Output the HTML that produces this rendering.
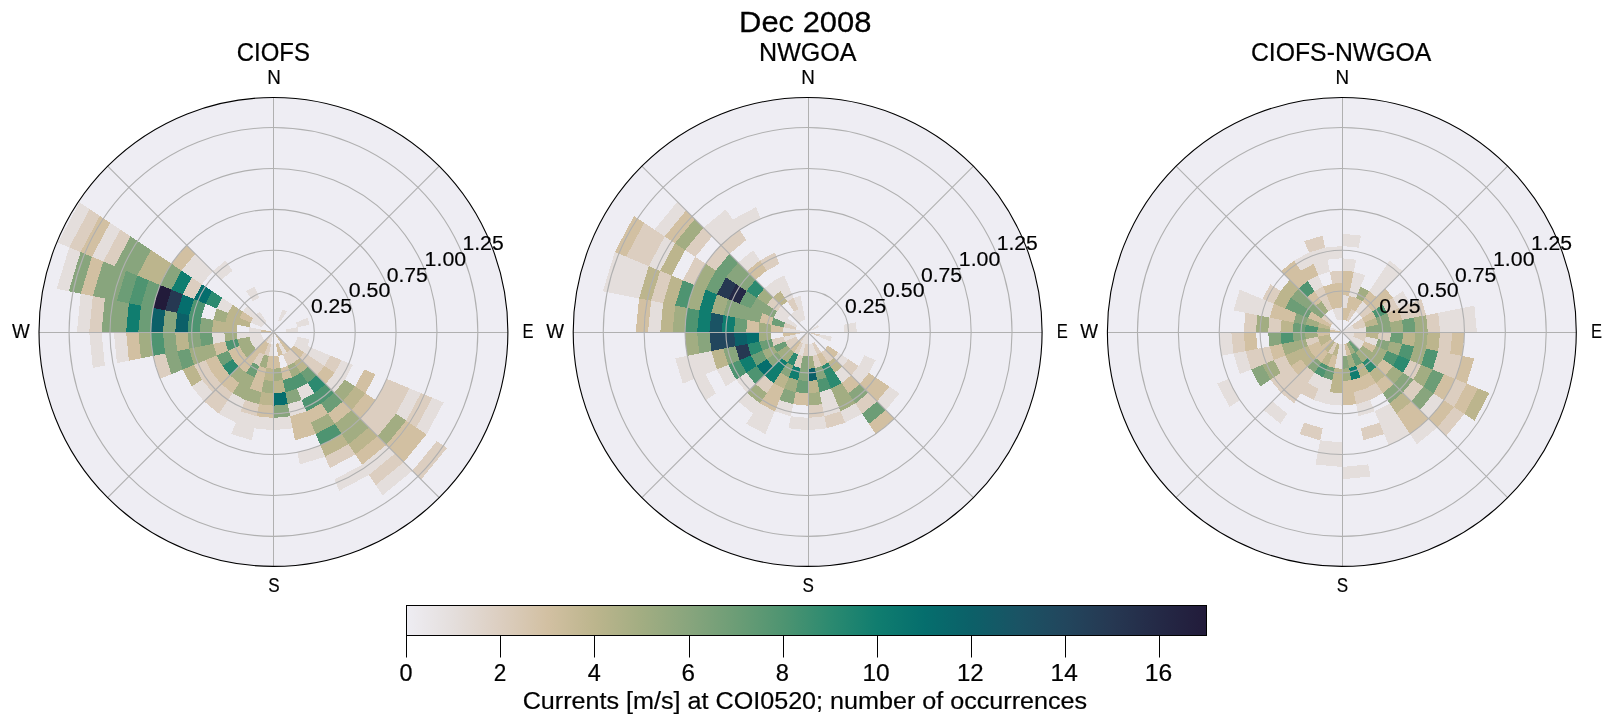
<!DOCTYPE html>
<html><head><meta charset="utf-8"><title>Dec 2008</title>
<style>
html,body{margin:0;padding:0;background:#fff;}
body{width:1611px;height:724px;overflow:hidden;}
svg{display:block;}
text{font-family:"Liberation Sans",sans-serif;fill:#000;stroke:#000;stroke-width:0.9px;}
</style></head><body>
<svg width="1611" height="724" viewBox="0 0 1611 724">
<rect width="1611" height="724" fill="#fff"/>
<defs><linearGradient id="cb" x1="0" x2="1" y1="0" y2="0"><stop offset="0.0000" stop-color="#EEEDF3"/><stop offset="0.0588" stop-color="#E4DEDC"/><stop offset="0.1176" stop-color="#DCCEC0"/><stop offset="0.1765" stop-color="#D2C0A2"/><stop offset="0.2353" stop-color="#BCB58D"/><stop offset="0.2941" stop-color="#A2AD82"/><stop offset="0.3529" stop-color="#88A57D"/><stop offset="0.4118" stop-color="#6C9D76"/><stop offset="0.4706" stop-color="#4E9471"/><stop offset="0.5294" stop-color="#2C8A70"/><stop offset="0.5882" stop-color="#107D6F"/><stop offset="0.6471" stop-color="#056E6D"/><stop offset="0.7059" stop-color="#0C6068"/><stop offset="0.7647" stop-color="#1A5364"/><stop offset="0.8235" stop-color="#22465D"/><stop offset="0.8824" stop-color="#263852"/><stop offset="0.9412" stop-color="#242946"/><stop offset="1.0000" stop-color="#221B3A"/></linearGradient><clipPath id="cp0"><circle cx="273.45" cy="331.95" r="234.45"/></clipPath><clipPath id="cp1"><circle cx="807.65" cy="331.95" r="234.45"/></clipPath><clipPath id="cp2"><circle cx="1341.85" cy="331.95" r="234.45"/></clipPath></defs>
<g>
<circle cx="273.45" cy="331.95" r="234.45" fill="#EEEDF3"/>
<g clip-path="url(#cp0)" shape-rendering="crispEdges">
<polygon points="278.15,320.60 282.85,309.26 287.09,311.53 280.27,321.74" fill="#E4DEDC"/>
<polygon points="296.14,322.55 307.49,317.85 309.58,324.76 297.54,327.16" fill="#E4DEDC"/>
<polygon points="285.49,329.55 297.54,327.16 298.01,331.95 285.73,331.95" fill="#E4DEDC"/>
<polygon points="297.54,336.74 309.58,339.14 307.49,346.05 296.14,341.35" fill="#E4DEDC"/>
<polygon points="296.14,341.35 307.49,346.05 304.08,352.42 293.87,345.59" fill="#E4DEDC"/><polygon points="307.49,346.05 318.83,350.75 314.29,359.24 304.08,352.42" fill="#E4DEDC"/><polygon points="318.83,350.75 330.18,355.45 324.50,366.06 314.29,359.24" fill="#E4DEDC"/><polygon points="330.18,355.45 341.52,360.15 334.71,372.88 324.50,366.06" fill="#DCCEC0"/><polygon points="341.52,360.15 352.87,364.85 344.92,379.71 334.71,372.88" fill="#E4DEDC"/><polygon points="364.21,369.54 375.56,374.24 365.34,393.35 355.13,386.53" fill="#D2C0A2"/><polygon points="386.90,378.94 398.25,383.64 385.76,407.00 375.55,400.17" fill="#DCCEC0"/><polygon points="398.25,383.64 409.59,388.34 395.98,413.82 385.76,407.00" fill="#DCCEC0"/><polygon points="409.59,388.34 420.94,393.04 406.19,420.64 395.98,413.82" fill="#E4DEDC"/><polygon points="420.94,393.04 432.28,397.74 416.40,427.46 406.19,420.64" fill="#DCCEC0"/><polygon points="432.28,397.74 443.63,402.44 426.61,434.29 416.40,427.46" fill="#E4DEDC"/>
<polygon points="293.87,345.59 304.08,352.42 299.50,358.00 290.82,349.32" fill="#D2C0A2"/><polygon points="304.08,352.42 314.29,359.24 308.18,366.68 299.50,358.00" fill="#DCCEC0"/><polygon points="314.29,359.24 324.50,366.06 316.87,375.37 308.18,366.68" fill="#DCCEC0"/><polygon points="324.50,366.06 334.71,372.88 325.55,384.05 316.87,375.37" fill="#D2C0A2"/><polygon points="334.71,372.88 344.92,379.71 334.23,392.73 325.55,384.05" fill="#E4DEDC"/><polygon points="344.92,379.71 355.13,386.53 342.92,401.42 334.23,392.73" fill="#A2AD82"/><polygon points="355.13,386.53 365.34,393.35 351.60,410.10 342.92,401.42" fill="#BCB58D"/><polygon points="365.34,393.35 375.55,400.17 360.28,418.78 351.60,410.10" fill="#D2C0A2"/><polygon points="375.55,400.17 385.76,407.00 368.97,427.47 360.28,418.78" fill="#DCCEC0"/><polygon points="385.76,407.00 395.98,413.82 377.65,436.15 368.97,427.47" fill="#DCCEC0"/><polygon points="395.98,413.82 406.19,420.64 386.33,444.83 377.65,436.15" fill="#A2AD82"/><polygon points="406.19,420.64 416.40,427.46 395.02,453.52 386.33,444.83" fill="#D2C0A2"/><polygon points="416.40,427.46 426.61,434.29 403.70,462.20 395.02,453.52" fill="#D2C0A2"/><polygon points="436.82,441.11 447.03,447.93 421.07,479.57 412.38,470.88" fill="#DCCEC0"/>
<polygon points="273.45,331.95 282.13,340.63 280.27,342.16 273.45,331.95" fill="#D2C0A2"/><polygon points="282.13,340.63 290.82,349.32 287.09,352.37 280.27,342.16" fill="#D2C0A2"/><polygon points="290.82,349.32 299.50,358.00 293.92,362.58 287.09,352.37" fill="#DCCEC0"/><polygon points="299.50,358.00 308.18,366.68 300.74,372.79 293.92,362.58" fill="#BCB58D"/><polygon points="308.18,366.68 316.87,375.37 307.56,383.00 300.74,372.79" fill="#6C9D76"/><polygon points="316.87,375.37 325.55,384.05 314.38,393.21 307.56,383.00" fill="#2C8A70"/><polygon points="325.55,384.05 334.23,392.73 321.21,403.42 314.38,393.21" fill="#4E9471"/><polygon points="334.23,392.73 342.92,401.42 328.03,413.63 321.21,403.42" fill="#6C9D76"/><polygon points="342.92,401.42 351.60,410.10 334.85,423.84 328.03,413.63" fill="#D2C0A2"/><polygon points="351.60,410.10 360.28,418.78 341.67,434.05 334.85,423.84" fill="#A2AD82"/><polygon points="360.28,418.78 368.97,427.47 348.50,444.26 341.67,434.05" fill="#A2AD82"/><polygon points="368.97,427.47 377.65,436.15 355.32,454.48 348.50,444.26" fill="#BCB58D"/><polygon points="377.65,436.15 386.33,444.83 362.14,464.69 355.32,454.48" fill="#D2C0A2"/><polygon points="386.33,444.83 395.02,453.52 368.96,474.90 362.14,464.69" fill="#E4DEDC"/><polygon points="395.02,453.52 403.70,462.20 375.79,485.11 368.96,474.90" fill="#DCCEC0"/><polygon points="403.70,462.20 412.38,470.88 382.61,495.32 375.79,485.11" fill="#E4DEDC"/>
<polygon points="280.27,342.16 287.09,352.37 282.85,354.64 278.15,343.30" fill="#E4DEDC"/><polygon points="287.09,352.37 293.92,362.58 287.55,365.99 282.85,354.64" fill="#DCCEC0"/><polygon points="293.92,362.58 300.74,372.79 292.25,377.33 287.55,365.99" fill="#A2AD82"/><polygon points="300.74,372.79 307.56,383.00 296.95,388.68 292.25,377.33" fill="#4E9471"/><polygon points="307.56,383.00 314.38,393.21 301.65,400.02 296.95,388.68" fill="#E4DEDC"/><polygon points="314.38,393.21 321.21,403.42 306.35,411.37 301.65,400.02" fill="#4E9471"/><polygon points="321.21,403.42 328.03,413.63 311.04,422.71 306.35,411.37" fill="#D2C0A2"/><polygon points="328.03,413.63 334.85,423.84 315.74,434.06 311.04,422.71" fill="#A2AD82"/><polygon points="334.85,423.84 341.67,434.05 320.44,445.40 315.74,434.06" fill="#4E9471"/><polygon points="341.67,434.05 348.50,444.26 325.14,456.75 320.44,445.40" fill="#BCB58D"/><polygon points="348.50,444.26 355.32,454.48 329.84,468.09 325.14,456.75" fill="#DCCEC0"/><polygon points="362.14,464.69 368.96,474.90 339.24,490.78 334.54,479.44" fill="#E4DEDC"/>
<polygon points="278.15,343.30 282.85,354.64 278.24,356.04 275.85,343.99" fill="#D2C0A2"/><polygon points="287.55,365.99 292.25,377.33 283.03,380.13 280.64,368.08" fill="#D2C0A2"/><polygon points="292.25,377.33 296.95,388.68 285.43,392.17 283.03,380.13" fill="#4E9471"/><polygon points="296.95,388.68 301.65,400.02 287.82,404.21 285.43,392.17" fill="#88A57D"/><polygon points="301.65,400.02 306.35,411.37 290.22,416.26 287.82,404.21" fill="#E4DEDC"/><polygon points="306.35,411.37 311.04,422.71 292.62,428.30 290.22,416.26" fill="#D2C0A2"/><polygon points="311.04,422.71 315.74,434.06 295.01,440.35 292.62,428.30" fill="#D2C0A2"/><polygon points="320.44,445.40 325.14,456.75 299.80,464.43 297.41,452.39" fill="#E4DEDC"/>
<polygon points="278.24,356.04 280.64,368.08 273.45,368.79 273.45,356.51" fill="#D2C0A2"/><polygon points="280.64,368.08 283.03,380.13 273.45,381.07 273.45,368.79" fill="#A2AD82"/><polygon points="283.03,380.13 285.43,392.17 273.45,393.35 273.45,381.07" fill="#BCB58D"/><polygon points="285.43,392.17 287.82,404.21 273.45,405.63 273.45,393.35" fill="#056E6D"/><polygon points="287.82,404.21 290.22,416.26 273.45,417.91 273.45,405.63" fill="#88A57D"/><polygon points="290.22,416.26 292.62,428.30 273.45,430.19 273.45,417.91" fill="#E4DEDC"/>
<polygon points="273.45,344.23 273.45,356.51 268.66,356.04 271.05,343.99" fill="#E4DEDC"/><polygon points="273.45,356.51 273.45,368.79 266.26,368.08 268.66,356.04" fill="#D2C0A2"/><polygon points="273.45,368.79 273.45,381.07 263.87,380.13 266.26,368.08" fill="#BCB58D"/><polygon points="273.45,381.07 273.45,393.35 261.47,392.17 263.87,380.13" fill="#A2AD82"/><polygon points="273.45,393.35 273.45,405.63 259.08,404.21 261.47,392.17" fill="#BCB58D"/><polygon points="273.45,405.63 273.45,417.91 256.68,416.26 259.08,404.21" fill="#D2C0A2"/><polygon points="273.45,417.91 273.45,430.19 254.28,428.30 256.68,416.26" fill="#E4DEDC"/>
<polygon points="273.45,331.95 271.05,343.99 268.75,343.30 273.45,331.95" fill="#E4DEDC"/><polygon points="271.05,343.99 268.66,356.04 264.05,354.64 268.75,343.30" fill="#DCCEC0"/><polygon points="268.66,356.04 266.26,368.08 259.35,365.99 264.05,354.64" fill="#A2AD82"/><polygon points="266.26,368.08 263.87,380.13 254.65,377.33 259.35,365.99" fill="#D2C0A2"/><polygon points="263.87,380.13 261.47,392.17 249.95,388.68 254.65,377.33" fill="#D2C0A2"/><polygon points="261.47,392.17 259.08,404.21 245.25,400.02 249.95,388.68" fill="#A2AD82"/><polygon points="259.08,404.21 256.68,416.26 240.55,411.37 245.25,400.02" fill="#DCCEC0"/><polygon points="256.68,416.26 254.28,428.30 235.86,422.71 240.55,411.37" fill="#E4DEDC"/><polygon points="254.28,428.30 251.89,440.35 231.16,434.06 235.86,422.71" fill="#E4DEDC"/>
<polygon points="273.45,331.95 268.75,343.30 266.63,342.16 273.45,331.95" fill="#E4DEDC"/><polygon points="268.75,343.30 264.05,354.64 259.81,352.37 266.63,342.16" fill="#D2C0A2"/><polygon points="264.05,354.64 259.35,365.99 252.98,362.58 259.81,352.37" fill="#DCCEC0"/><polygon points="259.35,365.99 254.65,377.33 246.16,372.79 252.98,362.58" fill="#6C9D76"/><polygon points="254.65,377.33 249.95,388.68 239.34,383.00 246.16,372.79" fill="#A2AD82"/><polygon points="249.95,388.68 245.25,400.02 232.52,393.21 239.34,383.00" fill="#A2AD82"/><polygon points="245.25,400.02 240.55,411.37 225.69,403.42 232.52,393.21" fill="#E4DEDC"/><polygon points="240.55,411.37 235.86,422.71 218.87,413.63 225.69,403.42" fill="#E4DEDC"/>
<polygon points="273.45,331.95 266.63,342.16 264.77,340.63 273.45,331.95" fill="#DCCEC0"/><polygon points="266.63,342.16 259.81,352.37 256.08,349.32 264.77,340.63" fill="#D2C0A2"/><polygon points="259.81,352.37 252.98,362.58 247.40,358.00 256.08,349.32" fill="#D2C0A2"/><polygon points="252.98,362.58 246.16,372.79 238.72,366.68 247.40,358.00" fill="#D2C0A2"/><polygon points="246.16,372.79 239.34,383.00 230.03,375.37 238.72,366.68" fill="#A2AD82"/><polygon points="239.34,383.00 232.52,393.21 221.35,384.05 230.03,375.37" fill="#D2C0A2"/><polygon points="232.52,393.21 225.69,403.42 212.67,392.73 221.35,384.05" fill="#DCCEC0"/><polygon points="225.69,403.42 218.87,413.63 203.98,401.42 212.67,392.73" fill="#DCCEC0"/>
<polygon points="264.77,340.63 256.08,349.32 253.03,345.59 263.24,338.77" fill="#E4DEDC"/><polygon points="256.08,349.32 247.40,358.00 242.82,352.42 253.03,345.59" fill="#A2AD82"/><polygon points="247.40,358.00 238.72,366.68 232.61,359.24 242.82,352.42" fill="#D2C0A2"/><polygon points="238.72,366.68 230.03,375.37 222.40,366.06 232.61,359.24" fill="#2C8A70"/><polygon points="230.03,375.37 221.35,384.05 212.19,372.88 222.40,366.06" fill="#D2C0A2"/><polygon points="221.35,384.05 212.67,392.73 201.98,379.71 212.19,372.88" fill="#DCCEC0"/><polygon points="212.67,392.73 203.98,401.42 191.77,386.53 201.98,379.71" fill="#E4DEDC"/>
<polygon points="263.24,338.77 253.03,345.59 250.76,341.35 262.10,336.65" fill="#E4DEDC"/><polygon points="253.03,345.59 242.82,352.42 239.41,346.05 250.76,341.35" fill="#A2AD82"/><polygon points="242.82,352.42 232.61,359.24 228.07,350.75 239.41,346.05" fill="#D2C0A2"/><polygon points="232.61,359.24 222.40,366.06 216.72,355.45 228.07,350.75" fill="#6C9D76"/><polygon points="222.40,366.06 212.19,372.88 205.38,360.15 216.72,355.45" fill="#D2C0A2"/><polygon points="212.19,372.88 201.98,379.71 194.03,364.85 205.38,360.15" fill="#DCCEC0"/><polygon points="201.98,379.71 191.77,386.53 182.69,369.54 194.03,364.85" fill="#BCB58D"/>
<polygon points="262.10,336.65 250.76,341.35 249.36,336.74 261.41,334.35" fill="#E4DEDC"/><polygon points="250.76,341.35 239.41,346.05 237.32,339.14 249.36,336.74" fill="#A2AD82"/><polygon points="239.41,346.05 228.07,350.75 225.27,341.53 237.32,339.14" fill="#4E9471"/><polygon points="228.07,350.75 216.72,355.45 213.23,343.93 225.27,341.53" fill="#D2C0A2"/><polygon points="216.72,355.45 205.38,360.15 201.19,346.32 213.23,343.93" fill="#A2AD82"/><polygon points="205.38,360.15 194.03,364.85 189.14,348.72 201.19,346.32" fill="#A2AD82"/><polygon points="194.03,364.85 182.69,369.54 177.10,351.12 189.14,348.72" fill="#6C9D76"/><polygon points="182.69,369.54 171.34,374.24 165.05,353.51 177.10,351.12" fill="#88A57D"/><polygon points="171.34,374.24 160.00,378.94 153.01,355.91 165.05,353.51" fill="#DCCEC0"/>
<polygon points="261.41,334.35 249.36,336.74 248.89,331.95 261.17,331.95" fill="#E4DEDC"/><polygon points="249.36,336.74 237.32,339.14 236.61,331.95 248.89,331.95" fill="#E4DEDC"/><polygon points="237.32,339.14 225.27,341.53 224.33,331.95 236.61,331.95" fill="#A2AD82"/><polygon points="225.27,341.53 213.23,343.93 212.05,331.95 224.33,331.95" fill="#E4DEDC"/><polygon points="213.23,343.93 201.19,346.32 199.77,331.95 212.05,331.95" fill="#6C9D76"/><polygon points="201.19,346.32 189.14,348.72 187.49,331.95 199.77,331.95" fill="#88A57D"/><polygon points="189.14,348.72 177.10,351.12 175.21,331.95 187.49,331.95" fill="#BCB58D"/><polygon points="177.10,351.12 165.05,353.51 162.93,331.95 175.21,331.95" fill="#88A57D"/><polygon points="165.05,353.51 153.01,355.91 150.65,331.95 162.93,331.95" fill="#4E9471"/><polygon points="153.01,355.91 140.97,358.30 138.37,331.95 150.65,331.95" fill="#A2AD82"/><polygon points="140.97,358.30 128.92,360.70 126.09,331.95 138.37,331.95" fill="#D2C0A2"/><polygon points="128.92,360.70 116.88,363.09 113.81,331.95 126.09,331.95" fill="#E4DEDC"/><polygon points="104.83,365.49 92.79,367.89 89.25,331.95 101.53,331.95" fill="#E4DEDC"/>
<polygon points="273.45,331.95 261.17,331.95 261.41,329.55 273.45,331.95" fill="#D2C0A2"/><polygon points="261.17,331.95 248.89,331.95 249.36,327.16 261.41,329.55" fill="#E4DEDC"/><polygon points="236.61,331.95 224.33,331.95 225.27,322.37 237.32,324.76" fill="#BCB58D"/><polygon points="224.33,331.95 212.05,331.95 213.23,319.97 225.27,322.37" fill="#BCB58D"/><polygon points="212.05,331.95 199.77,331.95 201.19,317.58 213.23,319.97" fill="#88A57D"/><polygon points="199.77,331.95 187.49,331.95 189.14,315.18 201.19,317.58" fill="#4E9471"/><polygon points="187.49,331.95 175.21,331.95 177.10,312.78 189.14,315.18" fill="#0C6068"/><polygon points="175.21,331.95 162.93,331.95 165.05,310.39 177.10,312.78" fill="#88A57D"/><polygon points="162.93,331.95 150.65,331.95 153.01,307.99 165.05,310.39" fill="#0C6068"/><polygon points="150.65,331.95 138.37,331.95 140.97,305.60 153.01,307.99" fill="#6C9D76"/><polygon points="138.37,331.95 126.09,331.95 128.92,303.20 140.97,305.60" fill="#107D6F"/><polygon points="126.09,331.95 113.81,331.95 116.88,300.81 128.92,303.20" fill="#88A57D"/><polygon points="113.81,331.95 101.53,331.95 104.83,298.41 116.88,300.81" fill="#88A57D"/><polygon points="101.53,331.95 89.25,331.95 92.79,296.01 104.83,298.41" fill="#DCCEC0"/><polygon points="89.25,331.95 76.97,331.95 80.75,293.62 92.79,296.01" fill="#E4DEDC"/>
<polygon points="249.36,327.16 237.32,324.76 239.41,317.85 250.76,322.55" fill="#BCB58D"/><polygon points="237.32,324.76 225.27,322.37 228.07,313.15 239.41,317.85" fill="#BCB58D"/><polygon points="225.27,322.37 213.23,319.97 216.72,308.45 228.07,313.15" fill="#A2AD82"/><polygon points="201.19,317.58 189.14,315.18 194.03,299.05 205.38,303.75" fill="#4E9471"/><polygon points="189.14,315.18 177.10,312.78 182.69,294.36 194.03,299.05" fill="#056E6D"/><polygon points="177.10,312.78 165.05,310.39 171.34,289.66 182.69,294.36" fill="#263852"/><polygon points="165.05,310.39 153.01,307.99 160.00,284.96 171.34,289.66" fill="#221B3A"/><polygon points="153.01,307.99 140.97,305.60 148.65,280.26 160.00,284.96" fill="#6C9D76"/><polygon points="140.97,305.60 128.92,303.20 137.31,275.56 148.65,280.26" fill="#4E9471"/><polygon points="128.92,303.20 116.88,300.81 125.96,270.86 137.31,275.56" fill="#6C9D76"/><polygon points="116.88,300.81 104.83,298.41 114.62,266.16 125.96,270.86" fill="#88A57D"/><polygon points="104.83,298.41 92.79,296.01 103.27,261.46 114.62,266.16" fill="#88A57D"/><polygon points="92.79,296.01 80.75,293.62 91.93,256.76 103.27,261.46" fill="#D2C0A2"/><polygon points="80.75,293.62 68.70,291.22 80.58,252.06 91.93,256.76" fill="#88A57D"/><polygon points="68.70,291.22 56.66,288.83 69.24,247.36 80.58,252.06" fill="#E4DEDC"/>
<polygon points="262.10,327.25 250.76,322.55 253.03,318.31 263.24,325.13" fill="#E4DEDC"/><polygon points="250.76,322.55 239.41,317.85 242.82,311.48 253.03,318.31" fill="#D2C0A2"/><polygon points="239.41,317.85 228.07,313.15 232.61,304.66 242.82,311.48" fill="#BCB58D"/><polygon points="228.07,313.15 216.72,308.45 222.40,297.84 232.61,304.66" fill="#E4DEDC"/><polygon points="216.72,308.45 205.38,303.75 212.19,291.02 222.40,297.84" fill="#2C8A70"/><polygon points="205.38,303.75 194.03,299.05 201.98,284.19 212.19,291.02" fill="#056E6D"/><polygon points="194.03,299.05 182.69,294.36 191.77,277.37 201.98,284.19" fill="#DCCEC0"/><polygon points="182.69,294.36 171.34,289.66 181.56,270.55 191.77,277.37" fill="#107D6F"/><polygon points="171.34,289.66 160.00,284.96 171.35,263.73 181.56,270.55" fill="#88A57D"/><polygon points="160.00,284.96 148.65,280.26 161.14,256.90 171.35,263.73" fill="#BCB58D"/><polygon points="148.65,280.26 137.31,275.56 150.92,250.08 161.14,256.90" fill="#BCB58D"/><polygon points="137.31,275.56 125.96,270.86 140.71,243.26 150.92,250.08" fill="#88A57D"/><polygon points="125.96,270.86 114.62,266.16 130.50,236.44 140.71,243.26" fill="#88A57D"/><polygon points="114.62,266.16 103.27,261.46 120.29,229.61 130.50,236.44" fill="#DCCEC0"/><polygon points="103.27,261.46 91.93,256.76 110.08,222.79 120.29,229.61" fill="#E4DEDC"/><polygon points="91.93,256.76 80.58,252.06 99.87,215.97 110.08,222.79" fill="#D2C0A2"/><polygon points="80.58,252.06 69.24,247.36 89.66,209.15 99.87,215.97" fill="#DCCEC0"/><polygon points="69.24,247.36 57.89,242.66 79.45,202.32 89.66,209.15" fill="#E4DEDC"/>
<polygon points="263.24,325.13 253.03,318.31 256.08,314.58 264.77,323.27" fill="#E4DEDC"/><polygon points="253.03,318.31 242.82,311.48 247.40,305.90 256.08,314.58" fill="#E4DEDC"/><polygon points="201.98,284.19 191.77,277.37 203.98,262.48 212.67,271.17" fill="#E4DEDC"/><polygon points="191.77,277.37 181.56,270.55 195.30,253.80 203.98,262.48" fill="#E4DEDC"/><polygon points="181.56,270.55 171.35,263.73 186.62,245.12 195.30,253.80" fill="#D2C0A2"/>
<polygon points="264.77,323.27 256.08,314.58 259.81,311.53 266.63,321.74" fill="#E4DEDC"/><polygon points="221.35,279.85 212.67,271.17 225.69,260.48 232.52,270.69" fill="#E4DEDC"/>
<polygon points="252.98,301.32 246.16,291.11 254.65,286.57 259.35,297.91" fill="#E4DEDC"/>
</g>
<g fill="none" stroke="#b0b0b0" stroke-width="1.1">
<circle cx="273.45" cy="331.95" r="40.88"/><circle cx="273.45" cy="331.95" r="81.75"/><circle cx="273.45" cy="331.95" r="122.62"/><circle cx="273.45" cy="331.95" r="163.50"/><circle cx="273.45" cy="331.95" r="204.38"/><line x1="273.45" y1="331.95" x2="439.23" y2="166.17"/><line x1="273.45" y1="331.95" x2="439.23" y2="497.73"/><line x1="273.45" y1="331.95" x2="107.67" y2="497.73"/><line x1="273.45" y1="331.95" x2="107.67" y2="166.17"/><line x1="273.50" y1="97.50" x2="273.50" y2="566.40" stroke-width="1"/><line x1="39.00" y1="332.50" x2="507.90" y2="332.50" stroke-width="1"/>
</g>
<circle cx="273.45" cy="331.95" r="234.45" fill="none" stroke="#000" stroke-width="1.1"/>
</g>
<g>
<circle cx="807.65" cy="331.95" r="234.45" fill="#EEEDF3"/>
<g clip-path="url(#cp1)" shape-rendering="crispEdges">
<polygon points="807.65,331.95 817.86,325.13 819.00,327.25 807.65,331.95" fill="#E4DEDC"/>
<polygon points="843.78,324.76 855.83,322.37 856.77,331.95 844.49,331.95" fill="#E4DEDC"/>
<polygon points="807.65,331.95 819.69,334.35 819.00,336.65 807.65,331.95" fill="#DCCEC0"/><polygon points="819.69,334.35 831.74,336.74 830.34,341.35 819.00,336.65" fill="#E4DEDC"/>
<polygon points="864.38,355.45 875.72,360.15 868.91,372.88 858.70,366.06" fill="#E4DEDC"/>
<polygon points="828.07,345.59 838.28,352.42 833.70,358.00 825.02,349.32" fill="#D2C0A2"/><polygon points="838.28,352.42 848.49,359.24 842.38,366.68 833.70,358.00" fill="#E4DEDC"/><polygon points="848.49,359.24 858.70,366.06 851.07,375.37 842.38,366.68" fill="#DCCEC0"/><polygon points="858.70,366.06 868.91,372.88 859.75,384.05 851.07,375.37" fill="#E4DEDC"/><polygon points="868.91,372.88 879.12,379.71 868.43,392.73 859.75,384.05" fill="#D2C0A2"/><polygon points="879.12,379.71 889.33,386.53 877.12,401.42 868.43,392.73" fill="#D2C0A2"/><polygon points="889.33,386.53 899.54,393.35 885.80,410.10 877.12,401.42" fill="#E4DEDC"/>
<polygon points="825.02,349.32 833.70,358.00 828.12,362.58 821.29,352.37" fill="#DCCEC0"/><polygon points="833.70,358.00 842.38,366.68 834.94,372.79 828.12,362.58" fill="#BCB58D"/><polygon points="842.38,366.68 851.07,375.37 841.76,383.00 834.94,372.79" fill="#E4DEDC"/><polygon points="851.07,375.37 859.75,384.05 848.58,393.21 841.76,383.00" fill="#D2C0A2"/><polygon points="859.75,384.05 868.43,392.73 855.41,403.42 848.58,393.21" fill="#88A57D"/><polygon points="868.43,392.73 877.12,401.42 862.23,413.63 855.41,403.42" fill="#DCCEC0"/><polygon points="877.12,401.42 885.80,410.10 869.05,423.84 862.23,413.63" fill="#6C9D76"/><polygon points="885.80,410.10 894.48,418.78 875.87,434.05 869.05,423.84" fill="#D2C0A2"/>
<polygon points="814.47,342.16 821.29,352.37 817.05,354.64 812.35,343.30" fill="#DCCEC0"/><polygon points="821.29,352.37 828.12,362.58 821.75,365.99 817.05,354.64" fill="#D2C0A2"/><polygon points="828.12,362.58 834.94,372.79 826.45,377.33 821.75,365.99" fill="#2C8A70"/><polygon points="834.94,372.79 841.76,383.00 831.15,388.68 826.45,377.33" fill="#2C8A70"/><polygon points="841.76,383.00 848.58,393.21 835.85,400.02 831.15,388.68" fill="#A2AD82"/><polygon points="848.58,393.21 855.41,403.42 840.55,411.37 835.85,400.02" fill="#A2AD82"/><polygon points="855.41,403.42 862.23,413.63 845.24,422.71 840.55,411.37" fill="#E4DEDC"/>
<polygon points="812.35,343.30 817.05,354.64 812.44,356.04 810.05,343.99" fill="#E4DEDC"/><polygon points="817.05,354.64 821.75,365.99 814.84,368.08 812.44,356.04" fill="#DCCEC0"/><polygon points="821.75,365.99 826.45,377.33 817.23,380.13 814.84,368.08" fill="#88A57D"/><polygon points="826.45,377.33 831.15,388.68 819.63,392.17 817.23,380.13" fill="#4E9471"/><polygon points="831.15,388.68 835.85,400.02 822.02,404.21 819.63,392.17" fill="#E4DEDC"/><polygon points="835.85,400.02 840.55,411.37 824.42,416.26 822.02,404.21" fill="#E4DEDC"/><polygon points="840.55,411.37 845.24,422.71 826.82,428.30 824.42,416.26" fill="#DCCEC0"/>
<polygon points="810.05,343.99 812.44,356.04 807.65,356.51 807.65,344.23" fill="#E4DEDC"/><polygon points="812.44,356.04 814.84,368.08 807.65,368.79 807.65,356.51" fill="#A2AD82"/><polygon points="814.84,368.08 817.23,380.13 807.65,381.07 807.65,368.79" fill="#0C6068"/><polygon points="817.23,380.13 819.63,392.17 807.65,393.35 807.65,381.07" fill="#BCB58D"/><polygon points="819.63,392.17 822.02,404.21 807.65,405.63 807.65,393.35" fill="#A2AD82"/><polygon points="822.02,404.21 824.42,416.26 807.65,417.91 807.65,405.63" fill="#DCCEC0"/><polygon points="824.42,416.26 826.82,428.30 807.65,430.19 807.65,417.91" fill="#E4DEDC"/>
<polygon points="807.65,331.95 807.65,344.23 805.25,343.99 807.65,331.95" fill="#E4DEDC"/><polygon points="807.65,344.23 807.65,356.51 802.86,356.04 805.25,343.99" fill="#DCCEC0"/><polygon points="807.65,356.51 807.65,368.79 800.46,368.08 802.86,356.04" fill="#88A57D"/><polygon points="807.65,368.79 807.65,381.07 798.07,380.13 800.46,368.08" fill="#88A57D"/><polygon points="807.65,381.07 807.65,393.35 795.67,392.17 798.07,380.13" fill="#6C9D76"/><polygon points="807.65,393.35 807.65,405.63 793.28,404.21 795.67,392.17" fill="#D2C0A2"/><polygon points="807.65,417.91 807.65,430.19 788.48,428.30 790.88,416.26" fill="#E4DEDC"/>
<polygon points="807.65,331.95 805.25,343.99 802.95,343.30 807.65,331.95" fill="#E4DEDC"/><polygon points="805.25,343.99 802.86,356.04 798.25,354.64 802.95,343.30" fill="#E4DEDC"/><polygon points="802.86,356.04 800.46,368.08 793.55,365.99 798.25,354.64" fill="#DCCEC0"/><polygon points="800.46,368.08 798.07,380.13 788.85,377.33 793.55,365.99" fill="#107D6F"/><polygon points="798.07,380.13 795.67,392.17 784.15,388.68 788.85,377.33" fill="#A2AD82"/><polygon points="795.67,392.17 793.28,404.21 779.45,400.02 784.15,388.68" fill="#88A57D"/><polygon points="793.28,404.21 790.88,416.26 774.75,411.37 779.45,400.02" fill="#E4DEDC"/>
<polygon points="807.65,331.95 802.95,343.30 800.83,342.16 807.65,331.95" fill="#E4DEDC"/><polygon points="802.95,343.30 798.25,354.64 794.01,352.37 800.83,342.16" fill="#DCCEC0"/><polygon points="798.25,354.64 793.55,365.99 787.18,362.58 794.01,352.37" fill="#2C8A70"/><polygon points="793.55,365.99 788.85,377.33 780.36,372.79 787.18,362.58" fill="#88A57D"/><polygon points="788.85,377.33 784.15,388.68 773.54,383.00 780.36,372.79" fill="#BCB58D"/><polygon points="784.15,388.68 779.45,400.02 766.72,393.21 773.54,383.00" fill="#D2C0A2"/><polygon points="779.45,400.02 774.75,411.37 759.89,403.42 766.72,393.21" fill="#D2C0A2"/><polygon points="774.75,411.37 770.06,422.71 753.07,413.63 759.89,403.42" fill="#E4DEDC"/><polygon points="770.06,422.71 765.36,434.06 746.25,423.84 753.07,413.63" fill="#E4DEDC"/>
<polygon points="807.65,331.95 800.83,342.16 798.97,340.63 807.65,331.95" fill="#DCCEC0"/><polygon points="800.83,342.16 794.01,352.37 790.28,349.32 798.97,340.63" fill="#D2C0A2"/><polygon points="794.01,352.37 787.18,362.58 781.60,358.00 790.28,349.32" fill="#A2AD82"/><polygon points="787.18,362.58 780.36,372.79 772.92,366.68 781.60,358.00" fill="#107D6F"/><polygon points="780.36,372.79 773.54,383.00 764.23,375.37 772.92,366.68" fill="#107D6F"/><polygon points="773.54,383.00 766.72,393.21 755.55,384.05 764.23,375.37" fill="#DCCEC0"/><polygon points="766.72,393.21 759.89,403.42 746.87,392.73 755.55,384.05" fill="#A2AD82"/><polygon points="759.89,403.42 753.07,413.63 738.18,401.42 746.87,392.73" fill="#E4DEDC"/>
<polygon points="798.97,340.63 790.28,349.32 787.23,345.59 797.44,338.77" fill="#DCCEC0"/><polygon points="790.28,349.32 781.60,358.00 777.02,352.42 787.23,345.59" fill="#A2AD82"/><polygon points="781.60,358.00 772.92,366.68 766.81,359.24 777.02,352.42" fill="#88A57D"/><polygon points="772.92,366.68 764.23,375.37 756.60,366.06 766.81,359.24" fill="#056E6D"/><polygon points="764.23,375.37 755.55,384.05 746.39,372.88 756.60,366.06" fill="#4E9471"/><polygon points="755.55,384.05 746.87,392.73 736.18,379.71 746.39,372.88" fill="#E4DEDC"/>
<polygon points="797.44,338.77 787.23,345.59 784.96,341.35 796.30,336.65" fill="#DCCEC0"/><polygon points="787.23,345.59 777.02,352.42 773.61,346.05 784.96,341.35" fill="#6C9D76"/><polygon points="777.02,352.42 766.81,359.24 762.27,350.75 773.61,346.05" fill="#A2AD82"/><polygon points="766.81,359.24 756.60,366.06 750.92,355.45 762.27,350.75" fill="#6C9D76"/><polygon points="756.60,366.06 746.39,372.88 739.58,360.15 750.92,355.45" fill="#107D6F"/><polygon points="746.39,372.88 736.18,379.71 728.23,364.85 739.58,360.15" fill="#4E9471"/><polygon points="736.18,379.71 725.97,386.53 716.89,369.54 728.23,364.85" fill="#E4DEDC"/><polygon points="715.76,393.35 705.55,400.17 694.20,378.94 705.54,374.24" fill="#E4DEDC"/>
<polygon points="796.30,336.65 784.96,341.35 783.56,336.74 795.61,334.35" fill="#E4DEDC"/><polygon points="784.96,341.35 773.61,346.05 771.52,339.14 783.56,336.74" fill="#DCCEC0"/><polygon points="773.61,346.05 762.27,350.75 759.47,341.53 771.52,339.14" fill="#6C9D76"/><polygon points="762.27,350.75 750.92,355.45 747.43,343.93 759.47,341.53" fill="#2C8A70"/><polygon points="750.92,355.45 739.58,360.15 735.39,346.32 747.43,343.93" fill="#263852"/><polygon points="739.58,360.15 728.23,364.85 723.34,348.72 735.39,346.32" fill="#88A57D"/><polygon points="728.23,364.85 716.89,369.54 711.30,351.12 723.34,348.72" fill="#BCB58D"/><polygon points="716.89,369.54 705.54,374.24 699.25,353.51 711.30,351.12" fill="#E4DEDC"/><polygon points="705.54,374.24 694.20,378.94 687.21,355.91 699.25,353.51" fill="#E4DEDC"/><polygon points="694.20,378.94 682.85,383.64 675.17,358.30 687.21,355.91" fill="#E4DEDC"/>
<polygon points="807.65,331.95 795.61,334.35 795.37,331.95 807.65,331.95" fill="#DCCEC0"/><polygon points="795.61,334.35 783.56,336.74 783.09,331.95 795.37,331.95" fill="#D2C0A2"/><polygon points="771.52,339.14 759.47,341.53 758.53,331.95 770.81,331.95" fill="#A2AD82"/><polygon points="759.47,341.53 747.43,343.93 746.25,331.95 758.53,331.95" fill="#056E6D"/><polygon points="747.43,343.93 735.39,346.32 733.97,331.95 746.25,331.95" fill="#0C6068"/><polygon points="735.39,346.32 723.34,348.72 721.69,331.95 733.97,331.95" fill="#22465D"/><polygon points="723.34,348.72 711.30,351.12 709.41,331.95 721.69,331.95" fill="#22465D"/><polygon points="711.30,351.12 699.25,353.51 697.13,331.95 709.41,331.95" fill="#88A57D"/><polygon points="699.25,353.51 687.21,355.91 684.85,331.95 697.13,331.95" fill="#A2AD82"/>
<polygon points="807.65,331.95 795.37,331.95 795.61,329.55 807.65,331.95" fill="#E4DEDC"/><polygon points="795.37,331.95 783.09,331.95 783.56,327.16 795.61,329.55" fill="#E4DEDC"/><polygon points="783.09,331.95 770.81,331.95 771.52,324.76 783.56,327.16" fill="#D2C0A2"/><polygon points="770.81,331.95 758.53,331.95 759.47,322.37 771.52,324.76" fill="#A2AD82"/><polygon points="758.53,331.95 746.25,331.95 747.43,319.97 759.47,322.37" fill="#D2C0A2"/><polygon points="746.25,331.95 733.97,331.95 735.39,317.58 747.43,319.97" fill="#6C9D76"/><polygon points="733.97,331.95 721.69,331.95 723.34,315.18 735.39,317.58" fill="#107D6F"/><polygon points="721.69,331.95 709.41,331.95 711.30,312.78 723.34,315.18" fill="#1A5364"/><polygon points="709.41,331.95 697.13,331.95 699.25,310.39 711.30,312.78" fill="#107D6F"/><polygon points="697.13,331.95 684.85,331.95 687.21,307.99 699.25,310.39" fill="#4E9471"/><polygon points="684.85,331.95 672.57,331.95 675.17,305.60 687.21,307.99" fill="#A2AD82"/><polygon points="672.57,331.95 660.29,331.95 663.12,303.20 675.17,305.60" fill="#BCB58D"/><polygon points="660.29,331.95 648.01,331.95 651.08,300.81 663.12,303.20" fill="#E4DEDC"/><polygon points="648.01,331.95 635.73,331.95 639.03,298.41 651.08,300.81" fill="#D2C0A2"/>
<polygon points="795.61,329.55 783.56,327.16 784.96,322.55 796.30,327.25" fill="#DCCEC0"/><polygon points="783.56,327.16 771.52,324.76 773.61,317.85 784.96,322.55" fill="#6C9D76"/><polygon points="771.52,324.76 759.47,322.37 762.27,313.15 773.61,317.85" fill="#D2C0A2"/><polygon points="759.47,322.37 747.43,319.97 750.92,308.45 762.27,313.15" fill="#88A57D"/><polygon points="747.43,319.97 735.39,317.58 739.58,303.75 750.92,308.45" fill="#88A57D"/><polygon points="735.39,317.58 723.34,315.18 728.23,299.05 739.58,303.75" fill="#88A57D"/><polygon points="723.34,315.18 711.30,312.78 716.89,294.36 728.23,299.05" fill="#A2AD82"/><polygon points="711.30,312.78 699.25,310.39 705.54,289.66 716.89,294.36" fill="#107D6F"/><polygon points="699.25,310.39 687.21,307.99 694.20,284.96 705.54,289.66" fill="#A2AD82"/><polygon points="687.21,307.99 675.17,305.60 682.85,280.26 694.20,284.96" fill="#4E9471"/><polygon points="675.17,305.60 663.12,303.20 671.51,275.56 682.85,280.26" fill="#BCB58D"/><polygon points="663.12,303.20 651.08,300.81 660.16,270.86 671.51,275.56" fill="#DCCEC0"/><polygon points="651.08,300.81 639.03,298.41 648.82,266.16 660.16,270.86" fill="#BCB58D"/><polygon points="639.03,298.41 626.99,296.01 637.47,261.46 648.82,266.16" fill="#E4DEDC"/><polygon points="626.99,296.01 614.95,293.62 626.13,256.76 637.47,261.46" fill="#E4DEDC"/><polygon points="614.95,293.62 602.90,291.22 614.78,252.06 626.13,256.76" fill="#E4DEDC"/>
<polygon points="796.30,327.25 784.96,322.55 787.23,318.31 797.44,325.13" fill="#E4DEDC"/><polygon points="784.96,322.55 773.61,317.85 777.02,311.48 787.23,318.31" fill="#E4DEDC"/><polygon points="773.61,317.85 762.27,313.15 766.81,304.66 777.02,311.48" fill="#88A57D"/><polygon points="762.27,313.15 750.92,308.45 756.60,297.84 766.81,304.66" fill="#88A57D"/><polygon points="750.92,308.45 739.58,303.75 746.39,291.02 756.60,297.84" fill="#6C9D76"/><polygon points="739.58,303.75 728.23,299.05 736.18,284.19 746.39,291.02" fill="#242946"/><polygon points="728.23,299.05 716.89,294.36 725.97,277.37 736.18,284.19" fill="#263852"/><polygon points="716.89,294.36 705.54,289.66 715.76,270.55 725.97,277.37" fill="#6C9D76"/><polygon points="705.54,289.66 694.20,284.96 705.55,263.73 715.76,270.55" fill="#A2AD82"/><polygon points="694.20,284.96 682.85,280.26 695.34,256.90 705.55,263.73" fill="#DCCEC0"/><polygon points="671.51,275.56 660.16,270.86 674.91,243.26 685.12,250.08" fill="#BCB58D"/><polygon points="660.16,270.86 648.82,266.16 664.70,236.44 674.91,243.26" fill="#E4DEDC"/><polygon points="648.82,266.16 637.47,261.46 654.49,229.61 664.70,236.44" fill="#DCCEC0"/><polygon points="637.47,261.46 626.13,256.76 644.28,222.79 654.49,229.61" fill="#DCCEC0"/><polygon points="626.13,256.76 614.78,252.06 634.07,215.97 644.28,222.79" fill="#D2C0A2"/>
<polygon points="787.23,318.31 777.02,311.48 781.60,305.90 790.28,314.58" fill="#E4DEDC"/><polygon points="777.02,311.48 766.81,304.66 772.92,297.22 781.60,305.90" fill="#DCCEC0"/><polygon points="766.81,304.66 756.60,297.84 764.23,288.53 772.92,297.22" fill="#A2AD82"/><polygon points="756.60,297.84 746.39,291.02 755.55,279.85 764.23,288.53" fill="#2C8A70"/><polygon points="746.39,291.02 736.18,284.19 746.87,271.17 755.55,279.85" fill="#88A57D"/><polygon points="736.18,284.19 725.97,277.37 738.18,262.48 746.87,271.17" fill="#88A57D"/><polygon points="725.97,277.37 715.76,270.55 729.50,253.80 738.18,262.48" fill="#6C9D76"/><polygon points="715.76,270.55 705.55,263.73 720.82,245.12 729.50,253.80" fill="#DCCEC0"/><polygon points="695.34,256.90 685.12,250.08 703.45,227.75 712.13,236.43" fill="#DCCEC0"/><polygon points="685.12,250.08 674.91,243.26 694.77,219.07 703.45,227.75" fill="#A2AD82"/><polygon points="674.91,243.26 664.70,236.44 686.08,210.38 694.77,219.07" fill="#D2C0A2"/><polygon points="664.70,236.44 654.49,229.61 677.40,201.70 686.08,210.38" fill="#E4DEDC"/>
<polygon points="798.97,323.27 790.28,314.58 794.01,311.53 800.83,321.74" fill="#E4DEDC"/><polygon points="781.60,305.90 772.92,297.22 780.36,291.11 787.18,301.32" fill="#BCB58D"/><polygon points="772.92,297.22 764.23,288.53 773.54,280.90 780.36,291.11" fill="#E4DEDC"/><polygon points="755.55,279.85 746.87,271.17 759.89,260.48 766.72,270.69" fill="#D2C0A2"/><polygon points="746.87,271.17 738.18,262.48 753.07,250.27 759.89,260.48" fill="#E4DEDC"/><polygon points="729.50,253.80 720.82,245.12 739.43,229.85 746.25,240.06" fill="#DCCEC0"/><polygon points="720.82,245.12 712.13,236.43 732.60,219.64 739.43,229.85" fill="#E4DEDC"/><polygon points="712.13,236.43 703.45,227.75 725.78,209.42 732.60,219.64" fill="#E4DEDC"/>
<polygon points="800.83,321.74 794.01,311.53 798.25,309.26 802.95,320.60" fill="#E4DEDC"/><polygon points="794.01,311.53 787.18,301.32 793.55,297.91 798.25,309.26" fill="#DCCEC0"/><polygon points="787.18,301.32 780.36,291.11 788.85,286.57 793.55,297.91" fill="#E4DEDC"/><polygon points="780.36,291.11 773.54,280.90 784.15,275.22 788.85,286.57" fill="#E4DEDC"/><polygon points="766.72,270.69 759.89,260.48 774.75,252.53 779.45,263.88" fill="#DCCEC0"/><polygon points="739.43,229.85 732.60,219.64 755.96,207.15 760.66,218.50" fill="#E4DEDC"/>
<polygon points="802.95,320.60 798.25,309.26 802.86,307.86 805.25,319.91" fill="#E4DEDC"/><polygon points="798.25,309.26 793.55,297.91 800.46,295.82 802.86,307.86" fill="#E4DEDC"/>
</g>
<g fill="none" stroke="#b0b0b0" stroke-width="1.1">
<circle cx="807.65" cy="331.95" r="40.88"/><circle cx="807.65" cy="331.95" r="81.75"/><circle cx="807.65" cy="331.95" r="122.62"/><circle cx="807.65" cy="331.95" r="163.50"/><circle cx="807.65" cy="331.95" r="204.38"/><line x1="807.65" y1="331.95" x2="973.43" y2="166.17"/><line x1="807.65" y1="331.95" x2="973.43" y2="497.73"/><line x1="807.65" y1="331.95" x2="641.87" y2="497.73"/><line x1="807.65" y1="331.95" x2="641.87" y2="166.17"/><line x1="808.50" y1="97.50" x2="808.50" y2="566.40" stroke-width="1"/><line x1="573.20" y1="332.50" x2="1042.10" y2="332.50" stroke-width="1"/>
</g>
<circle cx="807.65" cy="331.95" r="234.45" fill="none" stroke="#000" stroke-width="1.1"/>
</g>
<g>
<circle cx="1341.85" cy="331.95" r="234.45" fill="#EEEDF3"/>
<g clip-path="url(#cp2)" shape-rendering="crispEdges">
<polygon points="1341.85,319.67 1341.85,307.39 1346.64,307.86 1344.25,319.91" fill="#D2C0A2"/><polygon points="1341.85,307.39 1341.85,295.11 1349.04,295.82 1346.64,307.86" fill="#E4DEDC"/><polygon points="1341.85,295.11 1341.85,282.83 1351.43,283.77 1349.04,295.82" fill="#D2C0A2"/><polygon points="1341.85,282.83 1341.85,270.55 1353.83,271.73 1351.43,283.77" fill="#D2C0A2"/><polygon points="1341.85,270.55 1341.85,258.27 1356.22,259.69 1353.83,271.73" fill="#E4DEDC"/><polygon points="1341.85,245.99 1341.85,233.71 1361.02,235.60 1358.62,247.64" fill="#E4DEDC"/>
<polygon points="1344.25,319.91 1346.64,307.86 1351.25,309.26 1346.55,320.60" fill="#D2C0A2"/><polygon points="1346.64,307.86 1349.04,295.82 1355.95,297.91 1351.25,309.26" fill="#D2C0A2"/><polygon points="1349.04,295.82 1351.43,283.77 1360.65,286.57 1355.95,297.91" fill="#E4DEDC"/><polygon points="1351.43,283.77 1353.83,271.73 1365.35,275.22 1360.65,286.57" fill="#E4DEDC"/>
<polygon points="1346.55,320.60 1351.25,309.26 1355.49,311.53 1348.67,321.74" fill="#DCCEC0"/><polygon points="1351.25,309.26 1355.95,297.91 1362.32,301.32 1355.49,311.53" fill="#D2C0A2"/><polygon points="1355.95,297.91 1360.65,286.57 1369.14,291.11 1362.32,301.32" fill="#A2AD82"/>
<polygon points="1355.49,311.53 1362.32,301.32 1367.90,305.90 1359.22,314.58" fill="#E4DEDC"/><polygon points="1362.32,301.32 1369.14,291.11 1376.58,297.22 1367.90,305.90" fill="#D2C0A2"/><polygon points="1369.14,291.11 1375.96,280.90 1385.27,288.53 1376.58,297.22" fill="#E4DEDC"/><polygon points="1375.96,280.90 1382.78,270.69 1393.95,279.85 1385.27,288.53" fill="#E4DEDC"/><polygon points="1382.78,270.69 1389.61,260.48 1402.63,271.17 1393.95,279.85" fill="#E4DEDC"/>
<polygon points="1359.22,314.58 1367.90,305.90 1372.48,311.48 1362.27,318.31" fill="#DCCEC0"/><polygon points="1367.90,305.90 1376.58,297.22 1382.69,304.66 1372.48,311.48" fill="#D2C0A2"/><polygon points="1376.58,297.22 1385.27,288.53 1392.90,297.84 1382.69,304.66" fill="#D2C0A2"/>
<polygon points="1341.85,331.95 1352.06,325.13 1353.20,327.25 1341.85,331.95" fill="#E4DEDC"/><polygon points="1352.06,325.13 1362.27,318.31 1364.54,322.55 1353.20,327.25" fill="#DCCEC0"/><polygon points="1362.27,318.31 1372.48,311.48 1375.89,317.85 1364.54,322.55" fill="#D2C0A2"/><polygon points="1372.48,311.48 1382.69,304.66 1387.23,313.15 1375.89,317.85" fill="#4E9471"/><polygon points="1382.69,304.66 1392.90,297.84 1398.58,308.45 1387.23,313.15" fill="#DCCEC0"/><polygon points="1392.90,297.84 1403.11,291.02 1409.92,303.75 1398.58,308.45" fill="#E4DEDC"/>
<polygon points="1341.85,331.95 1353.20,327.25 1353.89,329.55 1341.85,331.95" fill="#E4DEDC"/><polygon points="1353.20,327.25 1364.54,322.55 1365.94,327.16 1353.89,329.55" fill="#DCCEC0"/><polygon points="1364.54,322.55 1375.89,317.85 1377.98,324.76 1365.94,327.16" fill="#BCB58D"/><polygon points="1375.89,317.85 1387.23,313.15 1390.03,322.37 1377.98,324.76" fill="#88A57D"/><polygon points="1387.23,313.15 1398.58,308.45 1402.07,319.97 1390.03,322.37" fill="#D2C0A2"/><polygon points="1398.58,308.45 1409.92,303.75 1414.11,317.58 1402.07,319.97" fill="#DCCEC0"/><polygon points="1409.92,303.75 1421.27,299.05 1426.16,315.18 1414.11,317.58" fill="#DCCEC0"/>
<polygon points="1341.85,331.95 1353.89,329.55 1354.13,331.95 1341.85,331.95" fill="#E4DEDC"/><polygon points="1353.89,329.55 1365.94,327.16 1366.41,331.95 1354.13,331.95" fill="#E4DEDC"/><polygon points="1365.94,327.16 1377.98,324.76 1378.69,331.95 1366.41,331.95" fill="#88A57D"/><polygon points="1377.98,324.76 1390.03,322.37 1390.97,331.95 1378.69,331.95" fill="#88A57D"/><polygon points="1390.03,322.37 1402.07,319.97 1403.25,331.95 1390.97,331.95" fill="#A2AD82"/><polygon points="1402.07,319.97 1414.11,317.58 1415.53,331.95 1403.25,331.95" fill="#6C9D76"/><polygon points="1414.11,317.58 1426.16,315.18 1427.81,331.95 1415.53,331.95" fill="#A2AD82"/><polygon points="1426.16,315.18 1438.20,312.78 1440.09,331.95 1427.81,331.95" fill="#DCCEC0"/><polygon points="1438.20,312.78 1450.25,310.39 1452.37,331.95 1440.09,331.95" fill="#E4DEDC"/><polygon points="1450.25,310.39 1462.29,307.99 1464.65,331.95 1452.37,331.95" fill="#E4DEDC"/><polygon points="1462.29,307.99 1474.33,305.60 1476.93,331.95 1464.65,331.95" fill="#E4DEDC"/>
<polygon points="1341.85,331.95 1354.13,331.95 1353.89,334.35 1341.85,331.95" fill="#E4DEDC"/><polygon points="1354.13,331.95 1366.41,331.95 1365.94,336.74 1353.89,334.35" fill="#DCCEC0"/><polygon points="1366.41,331.95 1378.69,331.95 1377.98,339.14 1365.94,336.74" fill="#BCB58D"/><polygon points="1378.69,331.95 1390.97,331.95 1390.03,341.53 1377.98,339.14" fill="#DCCEC0"/><polygon points="1390.97,331.95 1403.25,331.95 1402.07,343.93 1390.03,341.53" fill="#6C9D76"/><polygon points="1403.25,331.95 1415.53,331.95 1414.11,346.32 1402.07,343.93" fill="#BCB58D"/><polygon points="1415.53,331.95 1427.81,331.95 1426.16,348.72 1414.11,346.32" fill="#A2AD82"/><polygon points="1427.81,331.95 1440.09,331.95 1438.20,351.12 1426.16,348.72" fill="#BCB58D"/><polygon points="1440.09,331.95 1452.37,331.95 1450.25,353.51 1438.20,351.12" fill="#DCCEC0"/><polygon points="1452.37,331.95 1464.65,331.95 1462.29,355.91 1450.25,353.51" fill="#D2C0A2"/>
<polygon points="1341.85,331.95 1353.89,334.35 1353.20,336.65 1341.85,331.95" fill="#E4DEDC"/><polygon points="1353.89,334.35 1365.94,336.74 1364.54,341.35 1353.20,336.65" fill="#DCCEC0"/><polygon points="1365.94,336.74 1377.98,339.14 1375.89,346.05 1364.54,341.35" fill="#E4DEDC"/><polygon points="1377.98,339.14 1390.03,341.53 1387.23,350.75 1375.89,346.05" fill="#88A57D"/><polygon points="1390.03,341.53 1402.07,343.93 1398.58,355.45 1387.23,350.75" fill="#A2AD82"/><polygon points="1402.07,343.93 1414.11,346.32 1409.92,360.15 1398.58,355.45" fill="#4E9471"/><polygon points="1414.11,346.32 1426.16,348.72 1421.27,364.85 1409.92,360.15" fill="#A2AD82"/><polygon points="1426.16,348.72 1438.20,351.12 1432.61,369.54 1421.27,364.85" fill="#4E9471"/><polygon points="1438.20,351.12 1450.25,353.51 1443.96,374.24 1432.61,369.54" fill="#DCCEC0"/><polygon points="1450.25,353.51 1462.29,355.91 1455.30,378.94 1443.96,374.24" fill="#DCCEC0"/><polygon points="1462.29,355.91 1474.33,358.30 1466.65,383.64 1455.30,378.94" fill="#D2C0A2"/>
<polygon points="1341.85,331.95 1353.20,336.65 1352.06,338.77 1341.85,331.95" fill="#E4DEDC"/><polygon points="1353.20,336.65 1364.54,341.35 1362.27,345.59 1352.06,338.77" fill="#E4DEDC"/><polygon points="1364.54,341.35 1375.89,346.05 1372.48,352.42 1362.27,345.59" fill="#D2C0A2"/><polygon points="1375.89,346.05 1387.23,350.75 1382.69,359.24 1372.48,352.42" fill="#A2AD82"/><polygon points="1387.23,350.75 1398.58,355.45 1392.90,366.06 1382.69,359.24" fill="#4E9471"/><polygon points="1398.58,355.45 1409.92,360.15 1403.11,372.88 1392.90,366.06" fill="#2C8A70"/><polygon points="1409.92,360.15 1421.27,364.85 1413.32,379.71 1403.11,372.88" fill="#DCCEC0"/><polygon points="1421.27,364.85 1432.61,369.54 1423.53,386.53 1413.32,379.71" fill="#A2AD82"/><polygon points="1432.61,369.54 1443.96,374.24 1433.74,393.35 1423.53,386.53" fill="#6C9D76"/><polygon points="1443.96,374.24 1455.30,378.94 1443.95,400.17 1433.74,393.35" fill="#D2C0A2"/><polygon points="1455.30,378.94 1466.65,383.64 1454.16,407.00 1443.95,400.17" fill="#DCCEC0"/><polygon points="1466.65,383.64 1477.99,388.34 1464.38,413.82 1454.16,407.00" fill="#D2C0A2"/><polygon points="1477.99,388.34 1489.34,393.04 1474.59,420.64 1464.38,413.82" fill="#BCB58D"/>
<polygon points="1341.85,331.95 1352.06,338.77 1350.53,340.63 1341.85,331.95" fill="#E4DEDC"/><polygon points="1352.06,338.77 1362.27,345.59 1359.22,349.32 1350.53,340.63" fill="#E4DEDC"/><polygon points="1362.27,345.59 1372.48,352.42 1367.90,358.00 1359.22,349.32" fill="#A2AD82"/><polygon points="1372.48,352.42 1382.69,359.24 1376.58,366.68 1367.90,358.00" fill="#A2AD82"/><polygon points="1382.69,359.24 1392.90,366.06 1385.27,375.37 1376.58,366.68" fill="#D2C0A2"/><polygon points="1392.90,366.06 1403.11,372.88 1393.95,384.05 1385.27,375.37" fill="#A2AD82"/><polygon points="1403.11,372.88 1413.32,379.71 1402.63,392.73 1393.95,384.05" fill="#88A57D"/><polygon points="1413.32,379.71 1423.53,386.53 1411.32,401.42 1402.63,392.73" fill="#DCCEC0"/><polygon points="1423.53,386.53 1433.74,393.35 1420.00,410.10 1411.32,401.42" fill="#88A57D"/><polygon points="1433.74,393.35 1443.95,400.17 1428.68,418.78 1420.00,410.10" fill="#E4DEDC"/><polygon points="1443.95,400.17 1454.16,407.00 1437.37,427.47 1428.68,418.78" fill="#D2C0A2"/><polygon points="1454.16,407.00 1464.38,413.82 1446.05,436.15 1437.37,427.47" fill="#DCCEC0"/>
<polygon points="1350.53,340.63 1359.22,349.32 1355.49,352.37 1348.67,342.16" fill="#6C9D76"/><polygon points="1359.22,349.32 1367.90,358.00 1362.32,362.58 1355.49,352.37" fill="#A2AD82"/><polygon points="1367.90,358.00 1376.58,366.68 1369.14,372.79 1362.32,362.58" fill="#2C8A70"/><polygon points="1376.58,366.68 1385.27,375.37 1375.96,383.00 1369.14,372.79" fill="#BCB58D"/><polygon points="1385.27,375.37 1393.95,384.05 1382.78,393.21 1375.96,383.00" fill="#D2C0A2"/><polygon points="1393.95,384.05 1402.63,392.73 1389.61,403.42 1382.78,393.21" fill="#88A57D"/><polygon points="1402.63,392.73 1411.32,401.42 1396.43,413.63 1389.61,403.42" fill="#BCB58D"/><polygon points="1411.32,401.42 1420.00,410.10 1403.25,423.84 1396.43,413.63" fill="#D2C0A2"/><polygon points="1420.00,410.10 1428.68,418.78 1410.07,434.05 1403.25,423.84" fill="#D2C0A2"/><polygon points="1428.68,418.78 1437.37,427.47 1416.90,444.26 1410.07,434.05" fill="#E4DEDC"/>
<polygon points="1348.67,342.16 1355.49,352.37 1351.25,354.64 1346.55,343.30" fill="#A2AD82"/><polygon points="1355.49,352.37 1362.32,362.58 1355.95,365.99 1351.25,354.64" fill="#6C9D76"/><polygon points="1362.32,362.58 1369.14,372.79 1360.65,377.33 1355.95,365.99" fill="#BCB58D"/><polygon points="1369.14,372.79 1375.96,383.00 1365.35,388.68 1360.65,377.33" fill="#D2C0A2"/><polygon points="1375.96,383.00 1382.78,393.21 1370.05,400.02 1365.35,388.68" fill="#DCCEC0"/><polygon points="1389.61,403.42 1396.43,413.63 1379.44,422.71 1374.75,411.37" fill="#E4DEDC"/><polygon points="1396.43,413.63 1403.25,423.84 1384.14,434.06 1379.44,422.71" fill="#E4DEDC"/><polygon points="1403.25,423.84 1410.07,434.05 1388.84,445.40 1384.14,434.06" fill="#E4DEDC"/>
<polygon points="1346.55,343.30 1351.25,354.64 1346.64,356.04 1344.25,343.99" fill="#D2C0A2"/><polygon points="1351.25,354.64 1355.95,365.99 1349.04,368.08 1346.64,356.04" fill="#A2AD82"/><polygon points="1355.95,365.99 1360.65,377.33 1351.43,380.13 1349.04,368.08" fill="#107D6F"/><polygon points="1360.65,377.33 1365.35,388.68 1353.83,392.17 1351.43,380.13" fill="#D2C0A2"/><polygon points="1365.35,388.68 1370.05,400.02 1356.22,404.21 1353.83,392.17" fill="#DCCEC0"/><polygon points="1370.05,400.02 1374.75,411.37 1358.62,416.26 1356.22,404.21" fill="#E4DEDC"/><polygon points="1379.44,422.71 1384.14,434.06 1363.41,440.35 1361.02,428.30" fill="#DCCEC0"/>
<polygon points="1344.25,343.99 1346.64,356.04 1341.85,356.51 1341.85,344.23" fill="#E4DEDC"/><polygon points="1346.64,356.04 1349.04,368.08 1341.85,368.79 1341.85,356.51" fill="#88A57D"/><polygon points="1349.04,368.08 1351.43,380.13 1341.85,381.07 1341.85,368.79" fill="#A2AD82"/><polygon points="1351.43,380.13 1353.83,392.17 1341.85,393.35 1341.85,381.07" fill="#D2C0A2"/><polygon points="1353.83,392.17 1356.22,404.21 1341.85,405.63 1341.85,393.35" fill="#D2C0A2"/><polygon points="1368.20,464.43 1370.60,476.48 1341.85,479.31 1341.85,467.03" fill="#E4DEDC"/>
<polygon points="1341.85,344.23 1341.85,356.51 1337.06,356.04 1339.45,343.99" fill="#E4DEDC"/><polygon points="1341.85,356.51 1341.85,368.79 1334.66,368.08 1337.06,356.04" fill="#E4DEDC"/><polygon points="1341.85,368.79 1341.85,381.07 1332.27,380.13 1334.66,368.08" fill="#BCB58D"/><polygon points="1341.85,381.07 1341.85,393.35 1329.87,392.17 1332.27,380.13" fill="#BCB58D"/><polygon points="1341.85,393.35 1341.85,405.63 1327.48,404.21 1329.87,392.17" fill="#E4DEDC"/><polygon points="1341.85,442.47 1341.85,454.75 1317.89,452.39 1320.29,440.35" fill="#E4DEDC"/><polygon points="1341.85,454.75 1341.85,467.03 1315.50,464.43 1317.89,452.39" fill="#E4DEDC"/>
<polygon points="1339.45,343.99 1337.06,356.04 1332.45,354.64 1337.15,343.30" fill="#BCB58D"/><polygon points="1337.06,356.04 1334.66,368.08 1327.75,365.99 1332.45,354.64" fill="#D2C0A2"/><polygon points="1334.66,368.08 1332.27,380.13 1323.05,377.33 1327.75,365.99" fill="#6C9D76"/><polygon points="1332.27,380.13 1329.87,392.17 1318.35,388.68 1323.05,377.33" fill="#E4DEDC"/><polygon points="1329.87,392.17 1327.48,404.21 1313.65,400.02 1318.35,388.68" fill="#E4DEDC"/><polygon points="1322.68,428.30 1320.29,440.35 1299.56,434.06 1304.26,422.71" fill="#DCCEC0"/>
<polygon points="1337.15,343.30 1332.45,354.64 1328.21,352.37 1335.03,342.16" fill="#DCCEC0"/><polygon points="1332.45,354.64 1327.75,365.99 1321.38,362.58 1328.21,352.37" fill="#BCB58D"/><polygon points="1327.75,365.99 1323.05,377.33 1314.56,372.79 1321.38,362.58" fill="#4E9471"/><polygon points="1323.05,377.33 1318.35,388.68 1307.74,383.00 1314.56,372.79" fill="#E4DEDC"/><polygon points="1318.35,388.68 1313.65,400.02 1300.92,393.21 1307.74,383.00" fill="#DCCEC0"/>
<polygon points="1335.03,342.16 1328.21,352.37 1324.48,349.32 1333.17,340.63" fill="#BCB58D"/><polygon points="1328.21,352.37 1321.38,362.58 1315.80,358.00 1324.48,349.32" fill="#D2C0A2"/><polygon points="1321.38,362.58 1314.56,372.79 1307.12,366.68 1315.80,358.00" fill="#88A57D"/><polygon points="1314.56,372.79 1307.74,383.00 1298.43,375.37 1307.12,366.68" fill="#DCCEC0"/><polygon points="1307.74,383.00 1300.92,393.21 1289.75,384.05 1298.43,375.37" fill="#DCCEC0"/><polygon points="1300.92,393.21 1294.09,403.42 1281.07,392.73 1289.75,384.05" fill="#DCCEC0"/><polygon points="1287.27,413.63 1280.45,423.84 1263.70,410.10 1272.38,401.42" fill="#E4DEDC"/>
<polygon points="1333.17,340.63 1324.48,349.32 1321.43,345.59 1331.64,338.77" fill="#D2C0A2"/><polygon points="1324.48,349.32 1315.80,358.00 1311.22,352.42 1321.43,345.59" fill="#D2C0A2"/><polygon points="1315.80,358.00 1307.12,366.68 1301.01,359.24 1311.22,352.42" fill="#BCB58D"/><polygon points="1307.12,366.68 1298.43,375.37 1290.80,366.06 1301.01,359.24" fill="#D2C0A2"/><polygon points="1298.43,375.37 1289.75,384.05 1280.59,372.88 1290.80,366.06" fill="#DCCEC0"/><polygon points="1289.75,384.05 1281.07,392.73 1270.38,379.71 1280.59,372.88" fill="#DCCEC0"/>
<polygon points="1331.64,338.77 1321.43,345.59 1319.16,341.35 1330.50,336.65" fill="#BCB58D"/><polygon points="1321.43,345.59 1311.22,352.42 1307.81,346.05 1319.16,341.35" fill="#D2C0A2"/><polygon points="1311.22,352.42 1301.01,359.24 1296.47,350.75 1307.81,346.05" fill="#BCB58D"/><polygon points="1301.01,359.24 1290.80,366.06 1285.12,355.45 1296.47,350.75" fill="#BCB58D"/><polygon points="1290.80,366.06 1280.59,372.88 1273.78,360.15 1285.12,355.45" fill="#DCCEC0"/><polygon points="1280.59,372.88 1270.38,379.71 1262.43,364.85 1273.78,360.15" fill="#A2AD82"/><polygon points="1270.38,379.71 1260.17,386.53 1251.09,369.54 1262.43,364.85" fill="#88A57D"/><polygon points="1239.75,400.17 1229.54,407.00 1217.05,383.64 1228.40,378.94" fill="#E4DEDC"/>
<polygon points="1330.50,336.65 1319.16,341.35 1317.76,336.74 1329.81,334.35" fill="#BCB58D"/><polygon points="1319.16,341.35 1307.81,346.05 1305.72,339.14 1317.76,336.74" fill="#DCCEC0"/><polygon points="1307.81,346.05 1296.47,350.75 1293.67,341.53 1305.72,339.14" fill="#A2AD82"/><polygon points="1296.47,350.75 1285.12,355.45 1281.63,343.93 1293.67,341.53" fill="#A2AD82"/><polygon points="1285.12,355.45 1273.78,360.15 1269.59,346.32 1281.63,343.93" fill="#D2C0A2"/><polygon points="1273.78,360.15 1262.43,364.85 1257.54,348.72 1269.59,346.32" fill="#DCCEC0"/><polygon points="1262.43,364.85 1251.09,369.54 1245.50,351.12 1257.54,348.72" fill="#DCCEC0"/><polygon points="1251.09,369.54 1239.74,374.24 1233.45,353.51 1245.50,351.12" fill="#E4DEDC"/>
<polygon points="1329.81,334.35 1317.76,336.74 1317.29,331.95 1329.57,331.95" fill="#D2C0A2"/><polygon points="1317.76,336.74 1305.72,339.14 1305.01,331.95 1317.29,331.95" fill="#A2AD82"/><polygon points="1305.72,339.14 1293.67,341.53 1292.73,331.95 1305.01,331.95" fill="#88A57D"/><polygon points="1293.67,341.53 1281.63,343.93 1280.45,331.95 1292.73,331.95" fill="#4E9471"/><polygon points="1281.63,343.93 1269.59,346.32 1268.17,331.95 1280.45,331.95" fill="#88A57D"/><polygon points="1257.54,348.72 1245.50,351.12 1243.61,331.95 1255.89,331.95" fill="#D2C0A2"/><polygon points="1245.50,351.12 1233.45,353.51 1231.33,331.95 1243.61,331.95" fill="#DCCEC0"/><polygon points="1233.45,353.51 1221.41,355.91 1219.05,331.95 1231.33,331.95" fill="#E4DEDC"/>
<polygon points="1341.85,331.95 1329.57,331.95 1329.81,329.55 1341.85,331.95" fill="#D2C0A2"/><polygon points="1329.57,331.95 1317.29,331.95 1317.76,327.16 1329.81,329.55" fill="#A2AD82"/><polygon points="1317.29,331.95 1305.01,331.95 1305.72,324.76 1317.76,327.16" fill="#4E9471"/><polygon points="1305.01,331.95 1292.73,331.95 1293.67,322.37 1305.72,324.76" fill="#6C9D76"/><polygon points="1292.73,331.95 1280.45,331.95 1281.63,319.97 1293.67,322.37" fill="#BCB58D"/><polygon points="1280.45,331.95 1268.17,331.95 1269.59,317.58 1281.63,319.97" fill="#DCCEC0"/><polygon points="1268.17,331.95 1255.89,331.95 1257.54,315.18 1269.59,317.58" fill="#A2AD82"/><polygon points="1255.89,331.95 1243.61,331.95 1245.50,312.78 1257.54,315.18" fill="#DCCEC0"/>
<polygon points="1341.85,331.95 1329.81,329.55 1330.50,327.25 1341.85,331.95" fill="#E4DEDC"/><polygon points="1329.81,329.55 1317.76,327.16 1319.16,322.55 1330.50,327.25" fill="#BCB58D"/><polygon points="1317.76,327.16 1305.72,324.76 1307.81,317.85 1319.16,322.55" fill="#A2AD82"/><polygon points="1305.72,324.76 1293.67,322.37 1296.47,313.15 1307.81,317.85" fill="#88A57D"/><polygon points="1293.67,322.37 1281.63,319.97 1285.12,308.45 1296.47,313.15" fill="#D2C0A2"/><polygon points="1281.63,319.97 1269.59,317.58 1273.78,303.75 1285.12,308.45" fill="#D2C0A2"/><polygon points="1269.59,317.58 1257.54,315.18 1262.43,299.05 1273.78,303.75" fill="#E4DEDC"/><polygon points="1257.54,315.18 1245.50,312.78 1251.09,294.36 1262.43,299.05" fill="#E4DEDC"/><polygon points="1245.50,312.78 1233.45,310.39 1239.74,289.66 1251.09,294.36" fill="#E4DEDC"/>
<polygon points="1330.50,327.25 1319.16,322.55 1321.43,318.31 1331.64,325.13" fill="#D2C0A2"/><polygon points="1319.16,322.55 1307.81,317.85 1311.22,311.48 1321.43,318.31" fill="#D2C0A2"/><polygon points="1307.81,317.85 1296.47,313.15 1301.01,304.66 1311.22,311.48" fill="#6C9D76"/><polygon points="1296.47,313.15 1285.12,308.45 1290.80,297.84 1301.01,304.66" fill="#6C9D76"/><polygon points="1285.12,308.45 1273.78,303.75 1280.59,291.02 1290.80,297.84" fill="#BCB58D"/><polygon points="1273.78,303.75 1262.43,299.05 1270.38,284.19 1280.59,291.02" fill="#DCCEC0"/>
<polygon points="1331.64,325.13 1321.43,318.31 1324.48,314.58 1333.17,323.27" fill="#DCCEC0"/><polygon points="1321.43,318.31 1311.22,311.48 1315.80,305.90 1324.48,314.58" fill="#88A57D"/><polygon points="1311.22,311.48 1301.01,304.66 1307.12,297.22 1315.80,305.90" fill="#88A57D"/><polygon points="1301.01,304.66 1290.80,297.84 1298.43,288.53 1307.12,297.22" fill="#88A57D"/><polygon points="1290.80,297.84 1280.59,291.02 1289.75,279.85 1298.43,288.53" fill="#BCB58D"/>
<polygon points="1324.48,314.58 1315.80,305.90 1321.38,301.32 1328.21,311.53" fill="#A2AD82"/><polygon points="1315.80,305.90 1307.12,297.22 1314.56,291.11 1321.38,301.32" fill="#D2C0A2"/><polygon points="1307.12,297.22 1298.43,288.53 1307.74,280.90 1314.56,291.11" fill="#4E9471"/><polygon points="1298.43,288.53 1289.75,279.85 1300.92,270.69 1307.74,280.90" fill="#D2C0A2"/><polygon points="1289.75,279.85 1281.07,271.17 1294.09,260.48 1300.92,270.69" fill="#D2C0A2"/>
<polygon points="1328.21,311.53 1321.38,301.32 1327.75,297.91 1332.45,309.26" fill="#DCCEC0"/><polygon points="1321.38,301.32 1314.56,291.11 1323.05,286.57 1327.75,297.91" fill="#DCCEC0"/><polygon points="1314.56,291.11 1307.74,280.90 1318.35,275.22 1323.05,286.57" fill="#E4DEDC"/><polygon points="1307.74,280.90 1300.92,270.69 1313.65,263.88 1318.35,275.22" fill="#D2C0A2"/><polygon points="1300.92,270.69 1294.09,260.48 1308.95,252.53 1313.65,263.88" fill="#E4DEDC"/>
<polygon points="1337.15,320.60 1332.45,309.26 1337.06,307.86 1339.45,319.91" fill="#E4DEDC"/><polygon points="1332.45,309.26 1327.75,297.91 1334.66,295.82 1337.06,307.86" fill="#D2C0A2"/><polygon points="1327.75,297.91 1323.05,286.57 1332.27,283.77 1334.66,295.82" fill="#D2C0A2"/><polygon points="1318.35,275.22 1313.65,263.88 1327.48,259.69 1329.87,271.73" fill="#E4DEDC"/><polygon points="1313.65,263.88 1308.95,252.53 1325.08,247.64 1327.48,259.69" fill="#E4DEDC"/><polygon points="1308.95,252.53 1304.26,241.19 1322.68,235.60 1325.08,247.64" fill="#DCCEC0"/>
<polygon points="1339.45,319.91 1337.06,307.86 1341.85,307.39 1341.85,319.67" fill="#E4DEDC"/><polygon points="1337.06,307.86 1334.66,295.82 1341.85,295.11 1341.85,307.39" fill="#D2C0A2"/><polygon points="1334.66,295.82 1332.27,283.77 1341.85,282.83 1341.85,295.11" fill="#D2C0A2"/><polygon points="1332.27,283.77 1329.87,271.73 1341.85,270.55 1341.85,282.83" fill="#DCCEC0"/><polygon points="1327.48,259.69 1325.08,247.64 1341.85,245.99 1341.85,258.27" fill="#E4DEDC"/>
</g>
<g fill="none" stroke="#b0b0b0" stroke-width="1.1">
<circle cx="1341.85" cy="331.95" r="40.88"/><circle cx="1341.85" cy="331.95" r="81.75"/><circle cx="1341.85" cy="331.95" r="122.62"/><circle cx="1341.85" cy="331.95" r="163.50"/><circle cx="1341.85" cy="331.95" r="204.38"/><line x1="1341.85" y1="331.95" x2="1507.63" y2="166.17"/><line x1="1341.85" y1="331.95" x2="1507.63" y2="497.73"/><line x1="1341.85" y1="331.95" x2="1176.07" y2="497.73"/><line x1="1341.85" y1="331.95" x2="1176.07" y2="166.17"/><line x1="1342.50" y1="97.50" x2="1342.50" y2="566.40" stroke-width="1"/><line x1="1107.40" y1="332.50" x2="1576.30" y2="332.50" stroke-width="1"/>
</g>
<circle cx="1341.85" cy="331.95" r="234.45" fill="none" stroke="#000" stroke-width="1.1"/>
</g>
<g opacity="0.999">
<text transform="translate(739.05 31.80) scale(0.3095 0.2959)" font-size="100">Dec 2008</text>
<text transform="translate(236.78 60.89) scale(0.2394 0.2636)" font-size="100">CIOFS</text>
<text transform="translate(759.04 60.89) scale(0.2510 0.2636)" font-size="100">NWGOA</text>
<text transform="translate(1250.93 60.89) scale(0.2478 0.2636)" font-size="100">CIOFS-NWGOA</text>
<text transform="translate(267.15 83.90) scale(0.1882 0.2013)" font-size="100">N</text>
<text transform="translate(268.29 591.77) scale(0.1707 0.2030)" font-size="100">S</text>
<text transform="translate(522.49 338.00) scale(0.1652 0.2013)" font-size="100">E</text>
<text transform="translate(11.96 338.00) scale(0.1884 0.2013)" font-size="100">W</text>
<text transform="translate(310.92 312.97) scale(0.2118 0.2030)" font-size="100">0.25</text>
<text transform="translate(348.79 297.28) scale(0.2136 0.2031)" font-size="100">0.50</text>
<text transform="translate(386.68 281.59) scale(0.2118 0.2031)" font-size="100">0.75</text>
<text transform="translate(424.59 265.90) scale(0.2134 0.2030)" font-size="100">1.00</text>
<text transform="translate(462.49 250.21) scale(0.2115 0.2030)" font-size="100">1.25</text>
<text transform="translate(801.35 83.90) scale(0.1882 0.2013)" font-size="100">N</text>
<text transform="translate(802.49 591.77) scale(0.1707 0.2030)" font-size="100">S</text>
<text transform="translate(1056.69 338.00) scale(0.1652 0.2013)" font-size="100">E</text>
<text transform="translate(546.16 338.00) scale(0.1884 0.2013)" font-size="100">W</text>
<text transform="translate(845.12 312.97) scale(0.2118 0.2030)" font-size="100">0.25</text>
<text transform="translate(882.99 297.28) scale(0.2136 0.2031)" font-size="100">0.50</text>
<text transform="translate(920.88 281.59) scale(0.2118 0.2031)" font-size="100">0.75</text>
<text transform="translate(958.79 265.90) scale(0.2134 0.2030)" font-size="100">1.00</text>
<text transform="translate(996.69 250.21) scale(0.2115 0.2030)" font-size="100">1.25</text>
<text transform="translate(1335.55 83.90) scale(0.1882 0.2013)" font-size="100">N</text>
<text transform="translate(1336.69 591.77) scale(0.1707 0.2030)" font-size="100">S</text>
<text transform="translate(1590.89 338.00) scale(0.1652 0.2013)" font-size="100">E</text>
<text transform="translate(1080.36 338.00) scale(0.1884 0.2013)" font-size="100">W</text>
<text transform="translate(1379.32 312.97) scale(0.2118 0.2030)" font-size="100">0.25</text>
<text transform="translate(1417.19 297.28) scale(0.2136 0.2031)" font-size="100">0.50</text>
<text transform="translate(1455.08 281.59) scale(0.2118 0.2031)" font-size="100">0.75</text>
<text transform="translate(1492.99 265.90) scale(0.2134 0.2030)" font-size="100">1.00</text>
<text transform="translate(1530.89 250.21) scale(0.2115 0.2030)" font-size="100">1.25</text>
</g>
<g opacity="0.999">
<rect x="406.50" y="605.50" width="800.00" height="30.00" fill="url(#cb)"/>
<rect x="406.50" y="605.50" width="800.00" height="30.00" fill="none" stroke="#000" stroke-width="1"/>
<line x1="406.50" y1="635.50" x2="406.50" y2="657.50" stroke="#000" stroke-width="1"/><text transform="translate(399.43 680.98) scale(0.2345 0.2369)" font-size="100">0</text>
<line x1="500.50" y1="635.50" x2="500.50" y2="657.50" stroke="#000" stroke-width="1"/><text transform="translate(493.79 680.90) scale(0.2258 0.2356)" font-size="100">2</text>
<line x1="594.50" y1="635.50" x2="594.50" y2="657.50" stroke="#000" stroke-width="1"/><text transform="translate(587.74 681.02) scale(0.2344 0.2348)" font-size="100">4</text>
<line x1="689.50" y1="635.50" x2="689.50" y2="657.50" stroke="#000" stroke-width="1"/><text transform="translate(681.47 680.98) scale(0.2428 0.2367)" font-size="100">6</text>
<line x1="783.50" y1="635.50" x2="783.50" y2="657.50" stroke="#000" stroke-width="1"/><text transform="translate(775.83 680.98) scale(0.2371 0.2367)" font-size="100">8</text>
<line x1="877.50" y1="635.50" x2="877.50" y2="657.50" stroke="#000" stroke-width="1"/><text transform="translate(862.49 680.98) scale(0.2447 0.2367)" font-size="100">10</text>
<line x1="971.50" y1="635.50" x2="971.50" y2="657.50" stroke="#000" stroke-width="1"/><text transform="translate(957.02 680.90) scale(0.2398 0.2356)" font-size="100">12</text>
<line x1="1065.50" y1="635.50" x2="1065.50" y2="657.50" stroke="#000" stroke-width="1"/><text transform="translate(1050.61 680.90) scale(0.2445 0.2331)" font-size="100">14</text>
<line x1="1159.50" y1="635.50" x2="1159.50" y2="657.50" stroke="#000" stroke-width="1"/><text transform="translate(1144.79 680.98) scale(0.2467 0.2367)" font-size="100">16</text>
<text transform="translate(522.71 708.80) scale(0.2516 0.2351)" font-size="100">Currents [m/s] at COI0520; number of occurrences</text>
</g>
</svg>
</body></html>
